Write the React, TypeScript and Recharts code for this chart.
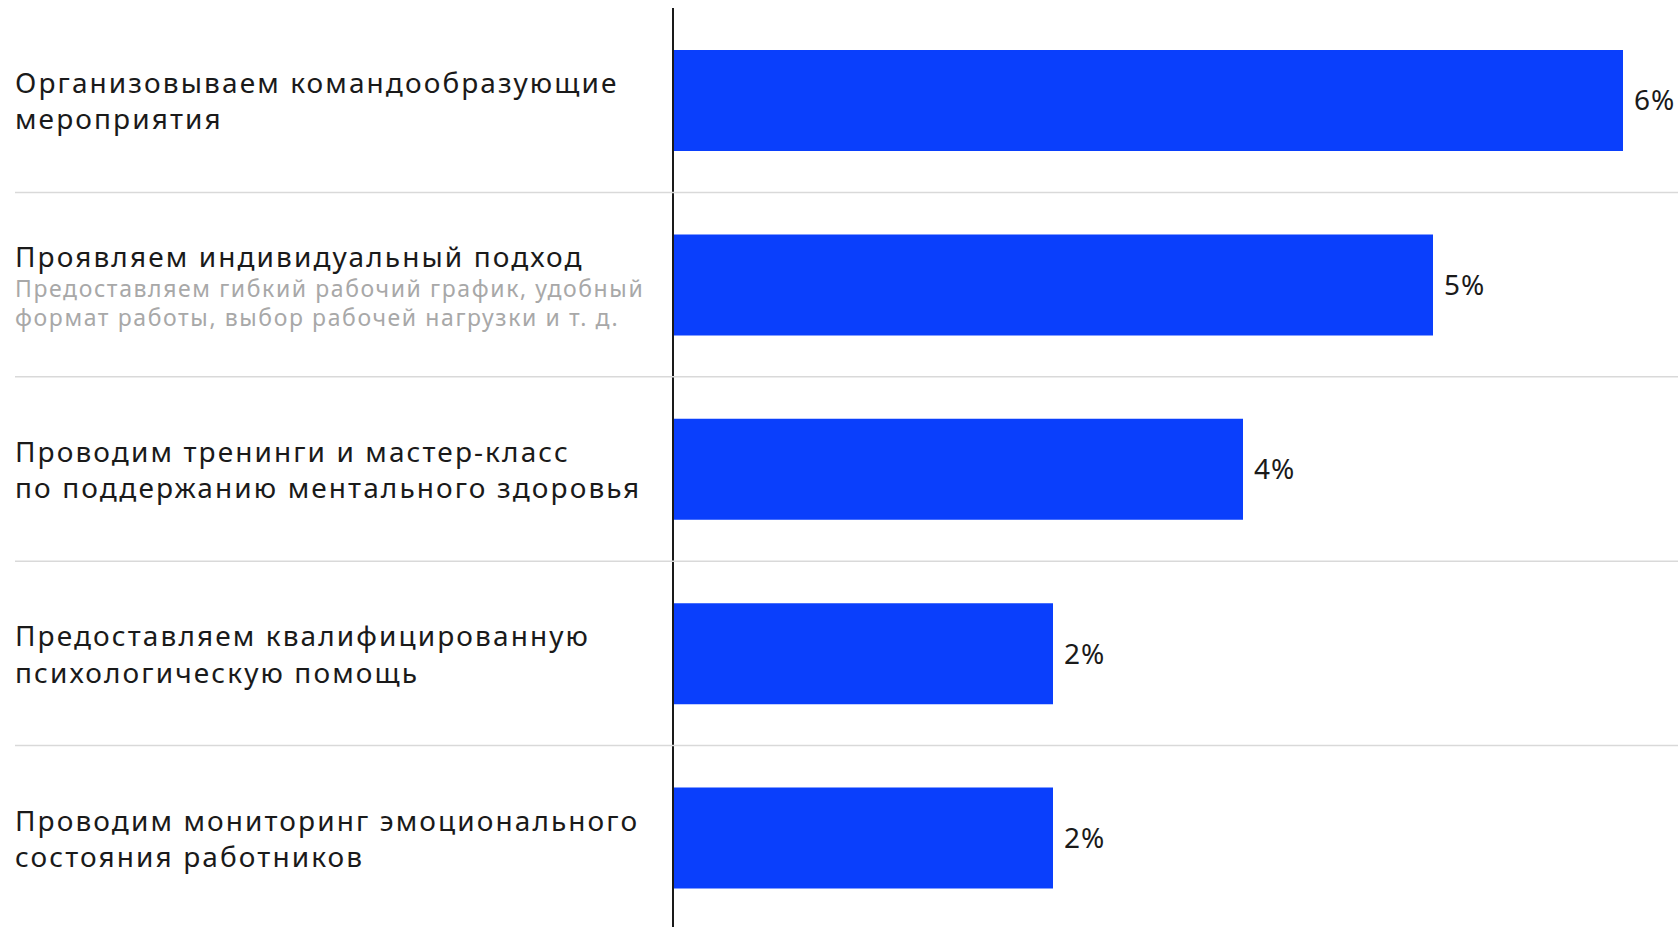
import React from "react";
import { BarChart, Bar, XAxis, YAxis, LabelList } from "recharts";

const categories = ["team", "individual", "trainings", "psychology", "monitoring"];
const titleLines: string[][] = [
  ["Организовываем командообразующие", "мероприятия"],
  ["Проявляем индивидуальный подход"],
  ["Проводим тренинги и мастер-класс", "по поддержанию ментального здоровья"],
  ["Предоставляем квалифицированную", "психологическую помощь"],
  ["Проводим мониторинг эмоционального", "состояния работников"],
];
const subtitleLines: string[][] = [
  [],
  ["Предоставляем гибкий рабочий график, удобный", "формат работы, выбор рабочей нагрузки и т. д."],
  [],
  [],
  [],
];
const values = [6.0, 4.8, 3.6, 2.4, 2.4];

const data = categories.map((c, i) => ({ category: c, value: values[i] }));

const W = 1678;
const H = 930;
const TOP = 8;
const BAND = (H - TOP) / categories.length;
const FONT = "'Noto Sans', 'Open Sans', sans-serif";

const CustomTick = (props: any) => {
  const { y, payload } = props;
  const idx = payload.index;
  const titles = titleLines[idx] || [];
  const subs = subtitleLines[idx] || [];
  const elems: React.ReactNode[] = [];
  const titleStyle = { letterSpacing: 2.1 };
  if (subs.length === 0) {
    const n = titles.length;
    titles.forEach((t, i) => {
      elems.push(
        <text key={"t" + i} x={15} y={y + (i - (n - 1) / 2) * 36.4} dominantBaseline="central" fontSize={28} fill="#1a1a1a" fontFamily={FONT} style={titleStyle}>
          {t}
        </text>
      );
    });
  } else {
    elems.push(
      <text key="t0" x={15} y={y - 29} dominantBaseline="central" fontSize={28} fill="#1a1a1a" fontFamily={FONT} style={titleStyle}>
        {titles[0]}
      </text>
    );
    subs.forEach((s, i) => {
      elems.push(
        <text key={"s" + i} x={15} y={y + 3 + i * 29} dominantBaseline="central" fontSize={23} fill="#a8a8a8" fontFamily={FONT} style={{ letterSpacing: 1.6 }}>
          {s}
        </text>
      );
    });
  }
  const last = idx === categories.length - 1;
  return (
    <g>
      {!last && <line x1={15} x2={W} y1={y + BAND / 2} y2={y + BAND / 2} stroke="#d9d9d9" strokeWidth={1.5} />}
      {elems}
    </g>
  );
};

export default function App() {
  return (
    <div style={{ position: "fixed", left: 0, top: 0, width: W, height: 927, overflow: "hidden", background: "#fff" }}>
      <BarChart width={W} height={H} data={data} layout="vertical" margin={{ top: TOP, right: 55, bottom: 0, left: 0 }}>
        <XAxis type="number" domain={[0, 6]} hide />
        <YAxis
          type="category"
          dataKey="category"
          width={673}
          axisLine={{ stroke: "#1a1a1a", strokeWidth: 2 }}
          tickLine={false}
          tick={(p: any) => <CustomTick {...p} />}
          interval={0}
        />
        <Bar dataKey="value" fill="#0a3ffc" barSize={101} isAnimationActive={false}>
          <LabelList
            dataKey="value"
            position="right"
            offset={11}
            formatter={(v: any) => Math.round(Number(v)) + "%"}
            fill="#1a1a1a"
            fontSize={28}
            fontFamily={FONT}
            style={{ letterSpacing: 1 }}
          />
        </Bar>
      </BarChart>
    </div>
  );
}
